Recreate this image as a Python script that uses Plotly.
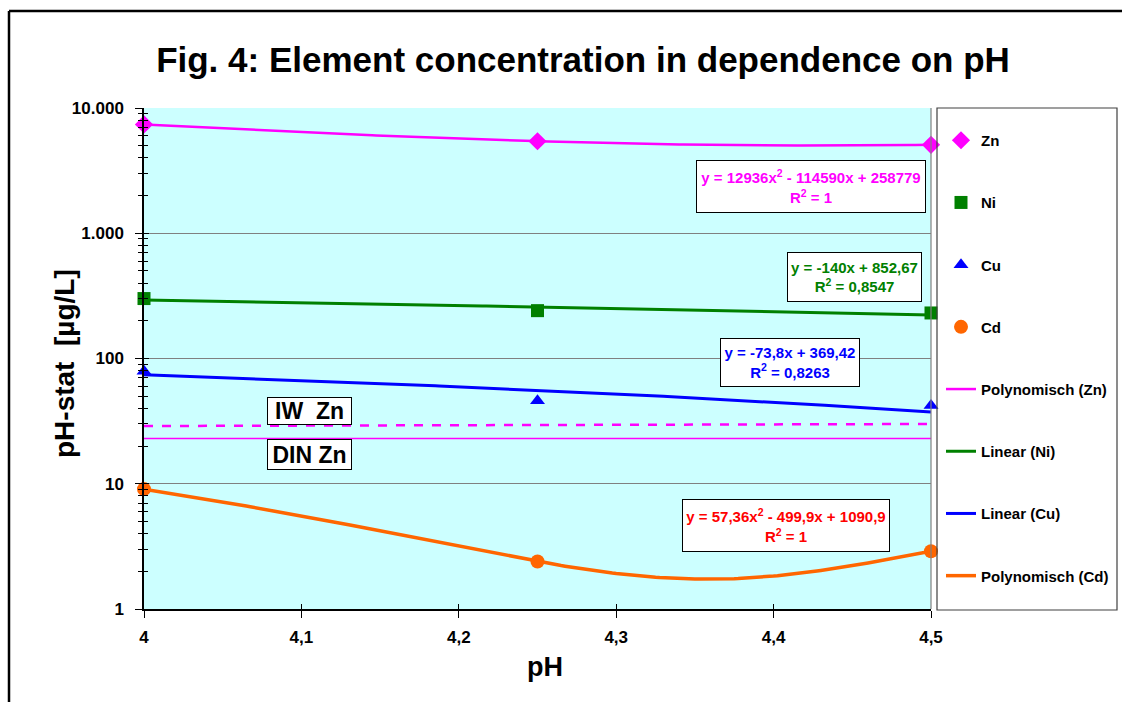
import numpy as np
import plotly.graph_objects as go

# ---------------- data ----------------
ph = [4.0, 4.25, 4.5]
zn = [7395, 5428, 5078]
ni = [301, 241, 231]
cu = [79.1, 46.0, 42.2]
cd = [9.06, 2.395, 2.89]

iw_zn_x = [4.0, 4.5]
iw_zn_y = [28.9, 30.0]
din_zn_x = [4.0, 4.5]
din_zn_y = [23.0, 23.0]

series_names = ["Zn", "Ni", "Cu", "Cd"]
trend_names = ["Polynomisch (Zn)", "Linear (Ni)", "Linear (Cu)", "Polynomisch (Cd)"]
trend_degree = [2, 1, 1, 2]

eq_texts = [
    "y = 12936x<sup>2</sup> - 114590x + 258779<br>R<sup>2</sup> = 1",
    "y = -140x + 852,67<br>R<sup>2</sup> = 0,8547",
    "y = -73,8x + 369,42<br>R<sup>2</sup> = 0,8263",
    "y = 57,36x<sup>2</sup> - 499,9x + 1090,9<br>R<sup>2</sup> = 1",
]

y_tickvals = [1, 10, 100, 1000, 10000]
y_ticktext = ["1", "10", "100", "1.000", "10.000"]
x_tickvals = [4.0, 4.1, 4.2, 4.3, 4.4, 4.5]
x_ticktext = ["4", "4,1", "4,2", "4,3", "4,4", "4,5"]

title_text = "Fig. 4: Element concentration in dependence on pH"
x_title = "pH"
y_title = "pH-stat&nbsp; [µg/L]"

# ---------------- styles ----------------
colors = ["#FF00FF", "#008000", "#0000FF", "#FF6600"]
eq_colors = ["#FF00FF", "#008000", "#0000FF", "#FF0000"]
symbols = ["diamond", "square", "triangle-up", "circle"]
msizes = [14, 13, 13, 14]
lwidths = [2.5, 3, 3, 3.5]
FONT = "Liberation Sans, Arial, sans-serif"

W, H = 1122, 702
L, R, T, B = 144, 931, 108, 609


def px(xp):
    return (xp - L) / (R - L)


def py(yp):
    return (B - yp) / (B - T)


fig = go.Figure()
data = [zn, ni, cu, cd]
xfit = np.linspace(ph[0], ph[-1], 201)

# trendlines (fitted to data like Excel)
for i, vals in enumerate(data):
    coef = np.polyfit(ph, vals, trend_degree[i])
    yfit = np.polyval(coef, xfit)
    fig.add_trace(go.Scatter(
        x=xfit, y=yfit, mode="lines", name=trend_names[i],
        line=dict(color=colors[i], width=lwidths[i]),
        legendgroup="t%d" % i, legendrank=10 + i, hoverinfo="skip"))

# limit lines
fig.add_trace(go.Scatter(x=iw_zn_x, y=iw_zn_y, mode="lines", showlegend=False,
                         line=dict(color="#FF00FF", width=2.5, dash="dash")))
fig.add_trace(go.Scatter(x=din_zn_x, y=din_zn_y, mode="lines", showlegend=False,
                         line=dict(color="#FF00FF", width=1.5)))

# data markers
for i, vals in enumerate(data):
    fig.add_trace(go.Scatter(
        x=ph, y=vals, mode="markers", name=series_names[i],
        marker=dict(symbol=symbols[i], size=msizes[i], color=colors[i]),
        legendgroup="m%d" % i, legendrank=i, cliponaxis=False))

# dummy trace for overlay axes (crossing ticks)
fig.add_trace(go.Scatter(x=[None], y=[None], xaxis="x2", yaxis="y2",
                         showlegend=False, hoverinfo="skip"))

minor_vals = [m * 10 ** d for d in range(4) for m in range(2, 10)]

axis_font = dict(family=FONT, size=17, color="black")

fig.update_layout(
    width=W, height=H,
    margin=dict(l=L, r=W - R, t=T, b=H - B, autoexpand=False),
    paper_bgcolor="white",
    plot_bgcolor="#CCFFFF",
    font=dict(family=FONT, color="black"),
    title=dict(text="<b>%s</b>" % title_text, x=583 / W, xref="container",
               y=1 - 60 / H, yref="container", xanchor="center", yanchor="middle",
               font=dict(family=FONT, size=35, color="black")),
    xaxis=dict(range=[4.0, 4.5], tickvals=x_tickvals,
               ticktext=["<b>%s</b>" % t for t in x_ticktext],
               ticks="outside", ticklen=7, tickcolor="black", tickwidth=1,
               ticklabelstandoff=5,
               showline=True, linecolor="black", linewidth=1.5,
               showgrid=False, zeroline=False, tickfont=axis_font),
    yaxis=dict(type="log", range=[0, 4], tickvals=y_tickvals,
               ticktext=["<b>%s</b>" % t for t in y_ticktext],
               ticks="outside", ticklen=7, tickcolor="black", tickwidth=1,
               ticklabelstandoff=8,
               minor=dict(tickvals=minor_vals, ticks="outside", ticklen=4,
                          tickcolor="black", showgrid=False),
               showline=True, linecolor="black", linewidth=1.5,
               showgrid=True, gridcolor="#808080", gridwidth=1, zeroline=False,
               tickfont=axis_font),
    xaxis2=dict(overlaying="x", anchor="y2", range=[4.0, 4.5], tickvals=x_tickvals,
                ticks="inside", ticklen=5, tickcolor="black", showticklabels=False,
                showgrid=False, zeroline=False, showline=False),
    yaxis2=dict(overlaying="y", anchor="x2", type="log", range=[0, 4], tickvals=y_tickvals,
                ticks="inside", ticklen=5, tickcolor="black", showticklabels=False,
                minor=dict(tickvals=minor_vals, ticks="inside", ticklen=4,
                           tickcolor="black", showgrid=False),
                showgrid=False, zeroline=False, showline=False),
    legend=dict(x=px(941), y=py(124), xanchor="left", yanchor="top",
                bgcolor="rgba(0,0,0,0)", borderwidth=0, tracegroupgap=39.7,
                font=dict(family=FONT, size=15, color="black"),
                itemwidth=30),
    showlegend=True,
)

# legend text bold
for tr in fig.data:
    if tr.name:
        tr.name = "<b>%s</b>" % tr.name

shapes = [
    # right border of plot area
    dict(type="line", xref="paper", yref="paper", x0=1, x1=1, y0=0, y1=1,
         line=dict(color="#808080", width=1.2), layer="above"),
    # legend box
    dict(type="rect", xref="paper", yref="paper", x0=px(937), x1=px(1117),
         y0=py(610), y1=py(108), line=dict(color="#404040", width=1.2)),
    # outer frame
    dict(type="line", xref="paper", yref="paper", x0=px(9), x1=px(9),
         y0=py(760), y1=py(11), line=dict(color="black", width=2.5)),
    dict(type="line", xref="paper", yref="paper", x0=px(9), x1=px(1200),
         y0=py(11), y1=py(11), line=dict(color="black", width=2.5)),
]
fig.update_layout(shapes=shapes)

# axis titles
fig.add_annotation(xref="paper", yref="paper", x=px(544.5), y=py(667),
                   xanchor="center", yanchor="middle", showarrow=False,
                   text="<b>%s</b>" % x_title,
                   font=dict(family=FONT, size=27, color="black"))
fig.add_annotation(xref="paper", yref="paper", x=px(64), y=py(364),
                   xanchor="center", yanchor="middle", showarrow=False,
                   textangle=-90, text="<b>%s</b>" % y_title,
                   font=dict(family=FONT, size=28, color="black"))

# equation boxes (center px, size px)
eq_boxes = [(811, 187, 230, 53), (854.5, 277, 135, 50), (790, 362.5, 140, 49), (786, 525, 208, 53)]
for i, (cx, cy, bw, bh) in enumerate(eq_boxes):
    fig.add_annotation(
        xref="paper", yref="paper", x=px(cx), y=py(cy), xanchor="center", yanchor="middle",
        text="<b>%s</b>" % eq_texts[i], showarrow=False, align="center",
        width=bw - 4, height=bh - 4, borderpad=1,
        bgcolor="white", bordercolor="black", borderwidth=1,
        font=dict(family=FONT, size=15, color=eq_colors[i]))

label_texts = ["IW&nbsp; Zn", "DIN Zn"]
label_boxes = [(309.5, 411, 85, 28), (309.5, 454.5, 85, 31)]
for t, (cx, cy, bw, bh) in zip(label_texts, label_boxes):
    fig.add_annotation(
        xref="paper", yref="paper", x=px(cx), y=py(cy), xanchor="center", yanchor="middle",
        text="<b>%s</b>" % t, showarrow=False,
        width=bw - 4, height=bh - 4, borderpad=1,
        bgcolor="white", bordercolor="black", borderwidth=1,
        font=dict(family=FONT, size=23, color="black"))

fig.write_html("out.html")
